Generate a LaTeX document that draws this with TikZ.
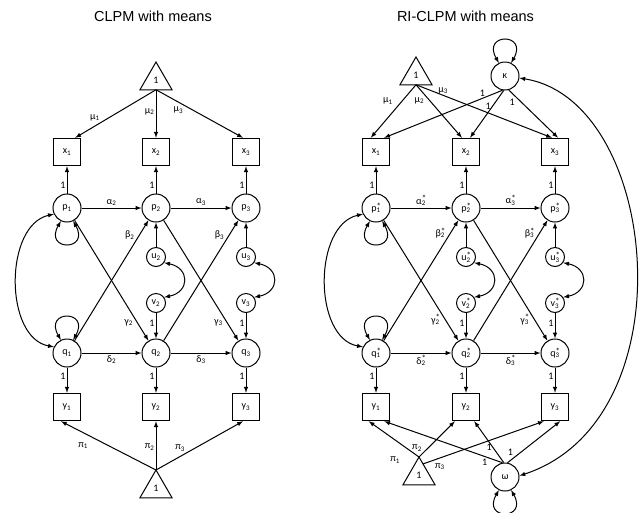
\documentclass[tikz,border=0pt]{standalone}
\usepackage{fontspec}
\setmainfont{Carlito}
\newfontfamily\titlefont{Liberation Sans}
\usetikzlibrary{arrows,calc,shapes.geometric}

\newcommand{\vsub}[2]{#1\textsubscript{#2}}
\newcommand{\vstar}[2]{#1\rlap{\raisebox{0.45ex}{\fontsize{9}{9}\selectfont *}}\textsubscript{#2}}

\begin{document}
\begin{tikzpicture}[x=1pt,y=1pt,font=\fontsize{10}{11}\selectfont,
    lat/.style={circle,draw,line width=1pt,minimum size=28pt,inner sep=0pt},
    res/.style={circle,draw,line width=1pt,minimum size=19pt,inner sep=0pt},
    obs/.style={rectangle,draw,line width=1.5pt,minimum size=27pt,inner sep=0pt},
    cst/.style={regular polygon,regular polygon sides=3,draw,line width=1pt,minimum size=37pt,inner sep=0pt,outer sep=0pt},
    reg/.style={-latex,line width=1pt},
    cov/.style={latex-latex,line width=1pt},
    lbl/.style={inner sep=1pt},
    ttl/.style={font=\titlefont\fontsize{14.5}{17}\selectfont}]

    \useasboundingbox (0,0) rectangle (644,-512);

    % CLPM with means
    \node[ttl] (ttl1) at (153,-16) {CLPM with means};
    \node[cst] (m1) at (156,-80.5) {1};
    \node[cst] (m2) at (156,-488.5) {1};

    \node[obs] (x1) at (67,-152) {\vsub{x}{1}};
    \node[obs] (x2) at (156,-152) {\vsub{x}{2}};
    \node[obs] (x3) at (246,-152) {\vsub{x}{3}};
    \node[lat] (p1) at (67,-208) {\vsub{p}{1}};
    \node[lat] (p2) at (156,-208) {\vsub{p}{2}};
    \node[lat] (p3) at (246,-208) {\vsub{p}{3}};
    \node[res] (u2) at (156,-257) {\vsub{u}{2}};
    \node[res] (u3) at (246,-257) {\vsub{u}{3}};
    \node[res] (v2) at (156,-303) {\vsub{v}{2}};
    \node[res] (v3) at (246,-303) {\vsub{v}{3}};
    \node[lat] (q1) at (67,-353) {\vsub{q}{1}};
    \node[lat] (q2) at (156,-353) {\vsub{q}{2}};
    \node[lat] (q3) at (246,-353) {\vsub{q}{3}};
    \node[obs] (y1) at (67,-407) {\vsub{y}{1}};
    \node[obs] (y2) at (156,-407) {\vsub{y}{2}};
    \node[obs] (y3) at (246,-407) {\vsub{y}{3}};

    \draw[reg] (m1.side 2) -- node[lbl,pos=0.68,above left]{\vsub{μ}{1}} (x1.60);
    \draw[reg] (m1.side 2) -- node[lbl,pos=0.46,left]{\vsub{μ}{2}} (x2.north);
    \draw[reg] (m1.side 2) -- node[lbl,pos=0.33,below left]{\vsub{μ}{3}} (x3.102);
    \draw[reg] (m2.corner 1) -- node[lbl,pos=0.7,below left,yshift=-5pt]{\vsub{π}{1}} (y1.-113);
    \draw[reg] (m2.corner 1) -- node[lbl,pos=0.47,left]{\vsub{π}{2}} (y2.south);
    \draw[reg] (m2.corner 1) -- node[lbl,pos=0.35,above left]{\vsub{π}{3}} (y3.-102);

    \draw[reg] (p1) -- node[lbl,pos=0.3,left]{1} (x1);
    \draw[reg] (p2) -- node[lbl,pos=0.3,left]{1} (x2);
    \draw[reg] (p3) -- node[lbl,pos=0.3,left]{1} (x3);
    \draw[reg] (q1) -- node[lbl,pos=0.35,left]{1} (y1);
    \draw[reg] (q2) -- node[lbl,pos=0.35,left]{1} (y2);
    \draw[reg] (q3) -- node[lbl,pos=0.35,left]{1} (y3);

    \draw[reg] (p1) -- node[lbl,above=1pt]{\vsub{α}{2}} (p2);
    \draw[reg] (p2) -- node[lbl,above=1pt]{\vsub{α}{3}} (p3);
    \draw[reg] (q1) -- node[lbl,below=1pt]{\vsub{δ}{2}} (q2);
    \draw[reg] (q2) -- node[lbl,below=1pt]{\vsub{δ}{3}} (q3);
    \draw[reg] (q1) -- node[lbl,pos=0.83,above left]{\vsub{β}{2}} (p2);
    \draw[reg] (q2) -- node[lbl,pos=0.83,above left]{\vsub{β}{3}} (p3);
    \draw[reg] (p1) -- node[lbl,pos=0.81,below left]{\vsub{γ}{2}} (q2);
    \draw[reg] (p2) -- node[lbl,pos=0.81,below left]{\vsub{γ}{3}} (q3);

    \draw[reg] (u2) -- (p2);
    \draw[reg] (u3) -- (p3);
    \draw[reg] (v2) -- node[lbl,pos=0.4,left]{1} (q2);
    \draw[reg] (v3) -- node[lbl,pos=0.4,left]{1} (q3);
    \draw[cov] (u2.-35) .. controls (190,-268) and (190,-292) .. (v2.35);
    \draw[cov] (u3.-35) .. controls (280,-268) and (280,-292) .. (v3.35);

    \draw[cov] (p1.205) .. controls (4,-225) and (4,-338) .. (q1.155);
    \draw[cov] (p1.-115) .. controls +(-120:35pt) and +(-60:35pt) .. (p1.-65);
    \draw[cov] (q1.115) .. controls +(120:35pt) and +(60:35pt) .. (q1.65);

    % RI-CLPM with means
    \node[ttl] (ttl2) at (465.5,-16) {RI-CLPM with means};
    \node[cst] (rm1) at (416,-75.5) {1};
    \node[cst] (rm2) at (419,-475.5) {1};
    \node[lat] (kap) at (505,-76) {κ};
    \node[lat] (om) at (505,-477) {ω};

    \node[obs] (rx1) at (376,-152) {\vsub{x}{1}};
    \node[obs] (rx2) at (466,-152) {\vsub{x}{2}};
    \node[obs] (rx3) at (555,-152) {\vsub{x}{3}};
    \node[lat] (rp1) at (376,-208) {\vstar{p}{1}};
    \node[lat] (rp2) at (466,-208) {\vstar{p}{2}};
    \node[lat] (rp3) at (555,-208) {\vstar{p}{3}};
    \node[res] (ru2) at (466,-257) {\vstar{u}{2}};
    \node[res] (ru3) at (555,-257) {\vstar{u}{3}};
    \node[res] (rv2) at (466,-303) {\vstar{v}{2}};
    \node[res] (rv3) at (555,-303) {\vstar{v}{3}};
    \node[lat] (rq1) at (376,-353) {\vstar{q}{1}};
    \node[lat] (rq2) at (466,-353) {\vstar{q}{2}};
    \node[lat] (rq3) at (555,-353) {\vstar{q}{3}};
    \node[obs] (ry1) at (376,-407) {\vsub{y}{1}};
    \node[obs] (ry2) at (466,-407) {\vsub{y}{2}};
    \node[obs] (ry3) at (555,-407) {\vsub{y}{3}};

    \draw[reg] (rm1.side 2) -- node[lbl,pos=0.44,above left=2pt]{\vsub{μ}{1}} (rx1.110);
    \draw[reg] (rm1.side 2) -- node[lbl,pos=0.21,below left]{\vsub{μ}{2}} (rx2.106);
    \draw[reg] (rm1.side 2) -- node[lbl,pos=0.2,above]{\vsub{μ}{3}} (rx3.102);
    \draw[reg] (kap.-100) -- node[lbl,pos=0.17,above]{1} (rx1.60);
    \draw[reg] (kap.-95) -- node[lbl,pos=0.34,left]{1} (rx2.74);
    \draw[reg] (kap.-75) -- node[lbl,pos=0.15,below left]{1} (rx3.78);

    \draw[reg] (rm2.corner 1) -- node[lbl,pos=0.15,anchor=north east,xshift=-10pt,yshift=-4pt]{\vsub{π}{1}} (ry1.-117);
    \draw[reg] (rm2.corner 1) -- node[lbl,pos=0.12,above left]{\vsub{π}{2}} (ry2.-128);
    \draw[reg] ($(rm2.corner 1)!0.25!(rm2.corner 3)$) -- node[lbl,pos=0.14,below=4pt]{\vsub{π}{3}} (ry3.-128);
    \draw[reg] (om.100) -- node[lbl,pos=0.15,below=1pt]{1} (ry1.-60);
    \draw[reg] (om.95) -- node[lbl,pos=0.36,left]{1} (ry2.-60);
    \draw[reg] (om.80) -- node[lbl,pos=0.13,above left]{1} (ry3.-70);

    \draw[reg] (rp1) -- node[lbl,pos=0.3,left]{1} (rx1);
    \draw[reg] (rp2) -- node[lbl,pos=0.3,left]{1} (rx2);
    \draw[reg] (rp3) -- node[lbl,pos=0.3,left]{1} (rx3);
    \draw[reg] (rq1) -- node[lbl,pos=0.35,left]{1} (ry1);
    \draw[reg] (rq2) -- node[lbl,pos=0.35,left]{1} (ry2);
    \draw[reg] (rq3) -- node[lbl,pos=0.35,left]{1} (ry3);

    \draw[reg] (rp1) -- node[lbl,above=1pt]{\vstar{α}{2}} (rp2);
    \draw[reg] (rp2) -- node[lbl,above=1pt]{\vstar{α}{3}} (rp3);
    \draw[reg] (rq1) -- node[lbl,below=1pt]{\vstar{δ}{2}} (rq2);
    \draw[reg] (rq2) -- node[lbl,below=1pt]{\vstar{δ}{3}} (rq3);
    \draw[reg] (rq1) -- node[lbl,pos=0.84,above left]{\vstar{β}{2}} (rp2);
    \draw[reg] (rq2) -- node[lbl,pos=0.84,above left]{\vstar{β}{3}} (rp3);
    \draw[reg] (rp1) -- node[lbl,pos=0.77,below left]{\vstar{γ}{2}} (rq2);
    \draw[reg] (rp2) -- node[lbl,pos=0.77,below left]{\vstar{γ}{3}} (rq3);

    \draw[reg] (ru2) -- (rp2);
    \draw[reg] (ru3) -- (rp3);
    \draw[reg] (rv2) -- node[lbl,pos=0.4,left]{1} (rq2);
    \draw[reg] (rv3) -- node[lbl,pos=0.4,left]{1} (rq3);
    \draw[cov] (ru2.-35) .. controls (500,-268) and (500,-292) .. (rv2.35);
    \draw[cov] (ru3.-35) .. controls (589,-268) and (589,-292) .. (rv3.35);

    \draw[cov] (rp1.205) .. controls (313,-225) and (313,-338) .. (rq1.155);
    \draw[cov] (rp1.-115) .. controls +(-120:35pt) and +(-60:35pt) .. (rp1.-65);
    \draw[cov] (rq1.115) .. controls +(120:35pt) and +(60:35pt) .. (rq1.65);
    \draw[cov] (kap.115) .. controls +(120:35pt) and +(60:35pt) .. (kap.65);
    \draw[cov] (om.-115) .. controls +(-120:35pt) and +(-60:35pt) .. (om.-65);
    \draw[cov] (kap.-8) .. controls (660,-100) and (690,-420) .. (om.5);

\end{tikzpicture}
\end{document}
